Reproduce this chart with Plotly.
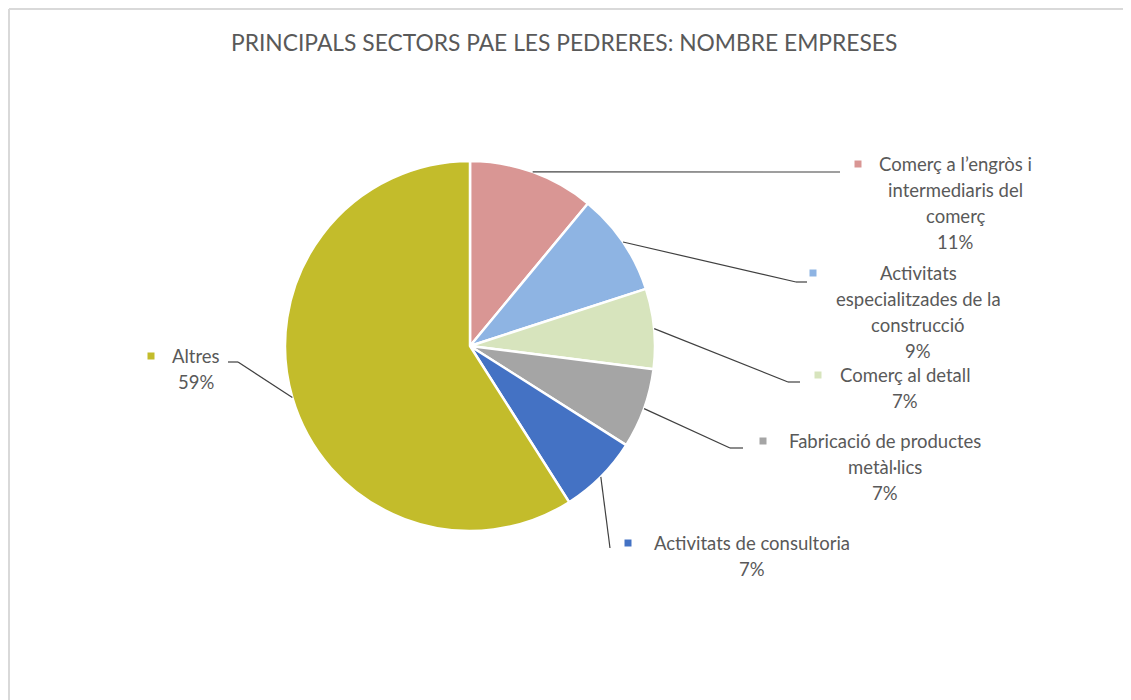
import math
import plotly.graph_objects as go

# Dades del gràfic
sectors = [
    "Comerç a l’engròs i intermediaris del comerç",
    "Activitats especialitzades de la construcció",
    "Comerç al detall",
    "Fabricació de productes metàl·lics",
    "Activitats de consultoria",
    "Altres",
]
percentatges = [11, 9, 7, 7, 7, 59]
colors = ["#D99694", "#8EB4E3", "#D7E4BD", "#A5A5A5", "#4472C4", "#C3BC2B"]
label_lines = [
    ["Comerç a l’engròs i", "intermediaris del", "comerç"],
    ["Activitats", "especialitzades de la", "construcció"],
    ["Comerç al detall"],
    ["Fabricació de productes", "metàl·lics"],
    ["Activitats de consultoria"],
    ["Altres"],
]

# la pàgina posa el gràfic 8 px a dins (marge del body)
OFF = 8
W, H = 1131 - OFF, 700 - OFF
CX, CY, R = 470, 346, 185  # centre i radi del pastís (px de pantalla)

# posicions de les etiquetes (px): centre del text, y primera línia, x del quadrat
label_pos = [
    (955, 164, 858),
    (918, 273, 813),
    (905, 375, 818),
    (885, 441, 763),
    (752, 543, 628),
    (196, 356, 151),
]
# línies guia: colze (x, y) i final x
leader_pos = [
    (840, 172, 840),
    (796, 282, 807),
    (788, 382, 800),
    (730, 448, 743),
    (610, 548, 610),
    (238, 362, 228),
]
LINE_H = 26

def px(x):
    return (x - OFF) / W

def py(y):
    return 1 - (y - OFF) / H

fig = go.Figure()
fig.add_trace(go.Pie(
    labels=sectors,
    values=percentatges,
    sort=False,
    direction="clockwise",
    rotation=0,
    textinfo="none",
    hoverinfo="label+percent",
    marker=dict(colors=colors, line=dict(color="white", width=2.5)),
    domain=dict(x=[px(CX - R), px(CX + R)], y=[py(CY + R), py(CY - R)]),
    showlegend=False,
))

font = dict(family="Lato, Carlito, Calibri, sans-serif", size=18.5, color="#595959")
annotations = []
shapes = []

total = sum(percentatges)
acc = 0
for i, v in enumerate(percentatges):
    mid = (acc + v / 2) / total * 2 * math.pi
    acc += v
    sx = CX + R * math.sin(mid)
    sy = CY - R * math.cos(mid)
    ex, ey, ex2 = leader_pos[i]
    shapes.append(dict(type="line", xref="paper", yref="paper",
                       x0=px(sx), y0=py(sy), x1=px(ex), y1=py(ey),
                       line=dict(color="#404040", width=1.2)))
    if ex2 != ex:
        shapes.append(dict(type="line", xref="paper", yref="paper",
                           x0=px(ex), y0=py(ey), x1=px(ex2), y1=py(ey),
                           line=dict(color="#404040", width=1.2)))

    cx, y0, mx = label_pos[i]
    lines = label_lines[i] + [f"{v}%"]
    for k, t in enumerate(lines):
        if i == 5 and k == 0:
            annotations.append(dict(x=px(mx + 19), y=py(y0), xref="paper", yref="paper",
                                    text=t, showarrow=False, xanchor="left",
                                    yanchor="middle", font=font))
        else:
            annotations.append(dict(x=px(cx), y=py(y0 + k * LINE_H), xref="paper", yref="paper",
                                    text=t, showarrow=False, xanchor="center",
                                    yanchor="middle", font=font))
    # quadrat de color
    shapes.append(dict(type="rect", xref="paper", yref="paper",
                       x0=px(mx - 3.5), x1=px(mx + 3.5), y0=py(y0 + 3.5), y1=py(y0 - 3.5),
                       fillcolor=colors[i], line=dict(width=0)))

# vora del gràfic (superior i esquerra)
shapes.append(dict(type="line", xref="paper", yref="paper", x0=px(9), x1=1, y0=py(9), y1=py(9),
                   line=dict(color="#D9D9D9", width=2)))
shapes.append(dict(type="line", xref="paper", yref="paper", x0=px(9), x1=px(9), y0=py(9), y1=0,
                   line=dict(color="#D9D9D9", width=2)))

annotations.append(dict(x=px(564), y=py(42), xref="paper", yref="paper",
                        text="PRINCIPALS SECTORS PAE LES PEDRERES: NOMBRE EMPRESES",
                        showarrow=False, xanchor="center", yanchor="middle",
                        font=dict(family="Lato, Carlito, Calibri, sans-serif", size=22.8, color="#595959")))

fig.update_layout(
    width=W, height=H,
    margin=dict(l=0, r=0, t=0, b=0),
    paper_bgcolor="white",
    plot_bgcolor="white",
    annotations=annotations,
    shapes=shapes,
)

fig.write_html("out.html")
